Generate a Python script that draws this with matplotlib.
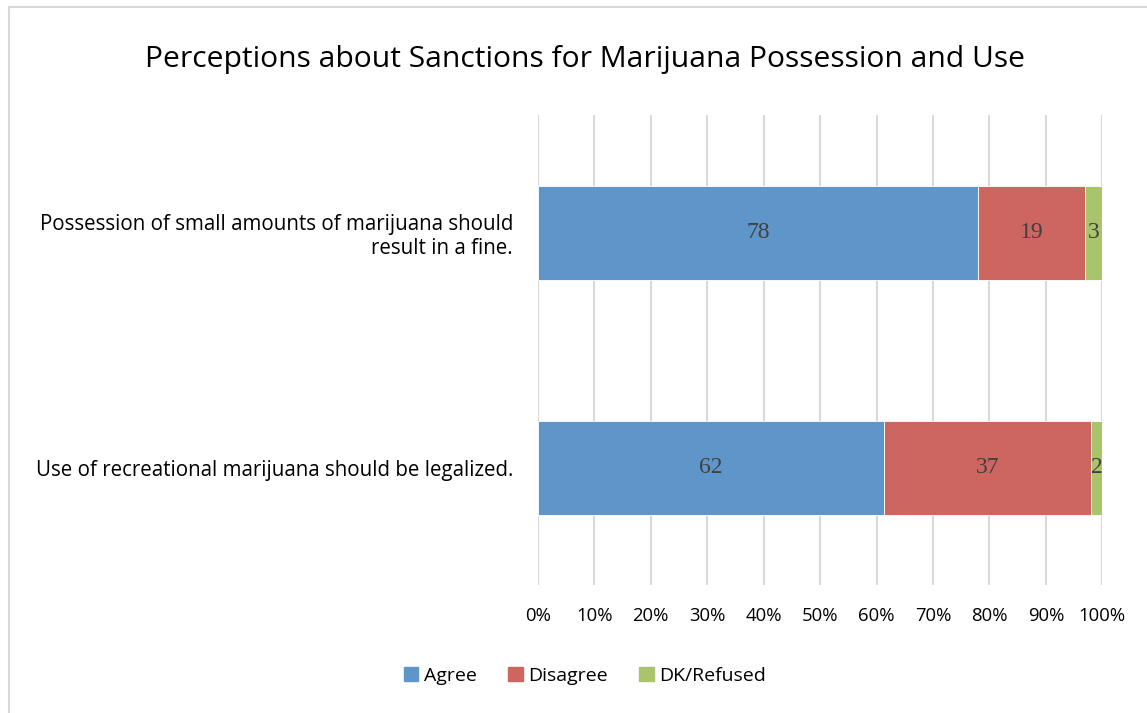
import matplotlib.pyplot as plt
import matplotlib.patches as mpatches
import numpy as np

# data
categories = ['Possession of small amounts of marijuana should\nresult in a fine.',
              'Use of recreational marijuana should be legalized.']
series = ['Agree', 'Disagree', 'DK/Refused']
agree = [78, 62]
disagree = [19, 37]
dk = [3, 2]
colors = ['#5F96C9', '#CD6660', '#A9C46B']
ticks = [0, 10, 20, 30, 40, 50, 60, 70, 80, 90, 100]

plt.rcParams['font.family'] = ['Open Sans', 'DejaVu Sans']

fig = plt.figure(figsize=(11.47, 7.13), dpi=100)
ax = fig.add_axes([0.469, 0.1795, 0.492, 0.659])

# outer chart frame
fig.patches.append(mpatches.Rectangle((9 / 1147, -0.1), 1.2, 1 - 7 / 713 + 0.1,
                                      transform=fig.transFigure, fill=False,
                                      edgecolor='#D9D9D9', linewidth=1.5))

vals = np.array([agree, disagree, dk], dtype=float)
totals = vals.sum(axis=0)
pct = vals / totals * 100
y = np.arange(len(categories))
left = np.zeros(len(categories))
for i, name in enumerate(series):
    bars = ax.barh(y, pct[i], left=left, height=0.4, color=colors[i],
                   edgecolor='white', linewidth=0.6, label=name, zorder=3)
    for j, b in enumerate(bars):
        ax.text(left[j] + pct[i][j] / 2, y[j], str(int(vals[i][j])),
                ha='center', va='center', fontsize=17, color='#404040',
                family='Liberation Serif', zorder=4)
    left += pct[i]

ax.set_xlim(0, 100)
ax.set_ylim(1.5, -0.5)
ax.set_xticks(ticks)
ax.set_xticklabels([f'{t}%' for t in ticks], fontsize=13.3)
ax.set_yticks(y)
ax.set_yticklabels(categories, fontsize=14.8, ha='right', multialignment='right')
ax.tick_params(length=0)
ax.tick_params(axis='x', pad=16)
ax.tick_params(axis='y', pad=18)
ax.grid(axis='x', color='#D9D9D9', linewidth=1.5, zorder=0)
for s in ax.spines.values():
    s.set_visible(False)

fig.text(0.51, 0.916, 'Perceptions about Sanctions for Marijuana Possession and Use',
         ha='center', va='center', fontsize=21.6)

handles = [mpatches.Patch(color=c, label=s) for c, s in zip(colors, series)]
fig.legend(handles=handles, loc='center', bbox_to_anchor=(0.51, 0.052), ncol=3,
           frameon=False, fontsize=14, handlelength=0.75, handleheight=0.75,
           handletextpad=0.3, columnspacing=1.6)

fig.savefig('out.png', dpi=100)
